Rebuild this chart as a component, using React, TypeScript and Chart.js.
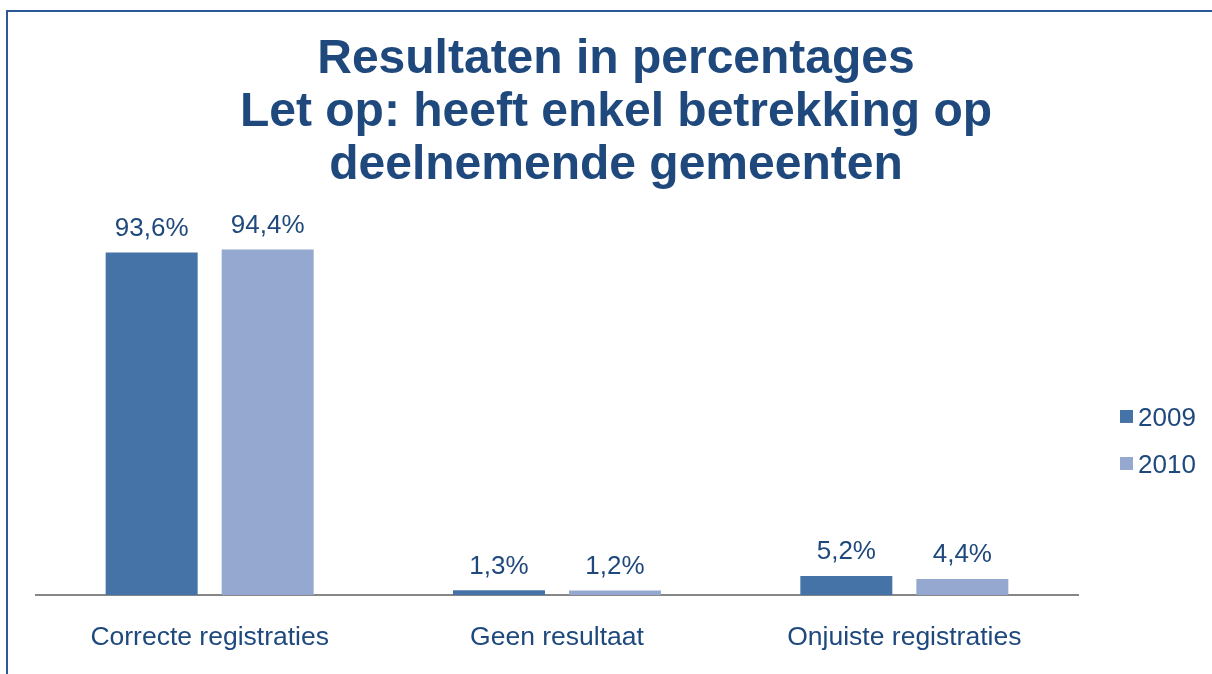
import React, { useEffect, useRef } from 'react';
import { Chart, registerables } from 'chart.js';

Chart.register(...registerables);

const categories = ['Correcte registraties', 'Geen resultaat', 'Onjuiste registraties'];
const values2009 = [93.6, 1.3, 5.2];
const values2010 = [94.4, 1.2, 4.4];
const seriesLabels = ['2009', '2010'];
const titleLines = ['Resultaten in percentages', 'Let op: heeft enkel betrekking op', 'deelnemende gemeenten'];

const FONT = '"Liberation Sans", Arial, Helvetica, sans-serif';
const TEXT = '#1F497D';
const COLORS = ['#4673A7', '#95A9D0'];

const fmt = (v: number) => v.toFixed(1).replace('.', ',') + '%';

const valueLabels = {
  id: 'valueLabels',
  afterDatasetsDraw(chart: any) {
    const ctx = chart.ctx;
    ctx.save();
    ctx.font = `26px ${FONT}`;
    ctx.fillStyle = TEXT;
    ctx.textAlign = 'center';
    ctx.textBaseline = 'alphabetic';
    chart.data.datasets.forEach((ds: any, i: number) => {
      const meta = chart.getDatasetMeta(i);
      meta.data.forEach((bar: any, j: number) => {
        ctx.fillText(fmt(ds.data[j]), bar.x, bar.y - 16.5);
      });
    });
    ctx.restore();
  },
};

const sideLegend = {
  id: 'sideLegend',
  afterDraw(chart: any) {
    const ctx = chart.ctx;
    const { right, top } = chart.chartArea;
    ctx.save();
    ctx.font = `26px ${FONT}`;
    ctx.textAlign = 'left';
    ctx.textBaseline = 'alphabetic';
    chart.data.datasets.forEach((ds: any, i: number) => {
      const x = right + 42;
      const y = top + 181 + i * 47;
      ctx.fillStyle = ds.backgroundColor;
      ctx.fillRect(x, y, 13, 13);
      ctx.fillStyle = TEXT;
      ctx.fillText(ds.label, x + 18, y + 16.5);
    });
    ctx.restore();
  },
};

export default function App() {
  const ref = useRef<HTMLCanvasElement>(null);
  useEffect(() => {
    document.body.style.margin = '0';
    const chart = new Chart(ref.current as HTMLCanvasElement, {
      type: 'bar',
      data: {
        labels: categories,
        datasets: [
          { label: seriesLabels[0], data: values2009, backgroundColor: COLORS[0], categoryPercentage: 0.668, barPercentage: 0.793 },
          { label: seriesLabels[1], data: values2010, backgroundColor: COLORS[1], categoryPercentage: 0.668, barPercentage: 0.793 },
        ],
      },
      options: {
        responsive: false,
        animation: false,
        layout: { padding: { left: 36, right: 16, top: 0, bottom: 23 } },
        plugins: {
          legend: { display: false },
          tooltip: { enabled: false },
          title: {
            display: true,
            text: titleLines,
            color: TEXT,
            font: { family: FONT, size: 48, weight: 'bold', lineHeight: 1.104 },
            padding: { top: 33, bottom: 37 },
          },
        },
        scales: {
          x: {
            grid: { display: false, drawTicks: false },
            border: { display: true, color: '#868686', width: 2 },
            ticks: { color: TEXT, font: { family: FONT, size: 26.5 }, padding: 27, maxRotation: 0, autoSkip: false },
            afterFit: (s: any) => { s.height = 56; },
          },
          y: {
            position: 'right',
            min: 0,
            max: 100,
            grid: { display: false, drawTicks: false },
            border: { display: false },
            ticks: { display: false },
            afterFit: (s: any) => { s.width = 118; },
          },
        },
      } as any,
      plugins: [valueLabels, sideLegend],
    });
    return () => chart.destroy();
  }, []);
  return (
    <div style={{ position: 'fixed', left: 0, top: 0, width: 1212, height: 674, overflow: 'hidden', background: '#fff' }}>
      <div style={{ position: 'absolute', left: 6, top: 10, right: 0, bottom: 0, borderLeft: '2px solid #2D5896', borderTop: '2px solid #2D5896' }} />
      <canvas ref={ref} width={1212} height={674} style={{ position: 'absolute', left: 0, top: 0, width: 1212, height: 674 }} />
    </div>
  );
}
